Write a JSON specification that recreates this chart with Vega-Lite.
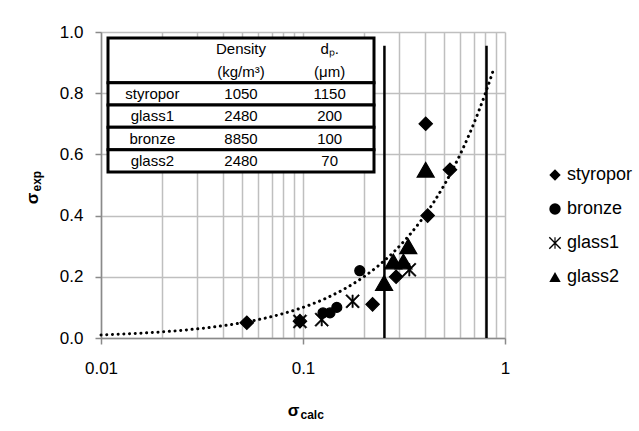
{
  "$schema": "https://vega.github.io/schema/vega-lite/v6.json",
  "width": 404,
  "height": 306,
  "autosize": {"type": "none"},
  "padding": {"left": 101, "top": 32, "right": 134, "bottom": 93},
  "background": "white",
  "config": {
    "view": {"stroke": null},
    "font": "Liberation Sans",
    "legend": {
      "orient": "none",
      "legendX": 445,
      "legendY": 134,
      "padding": 0,
      "labelFontSize": 18,
      "labelFont": "Liberation Sans",
      "labelColor": "black",
      "symbolSize": 130,
      "rowPadding": 16,
      "labelOffset": 3,
      "symbolFillColor": "black",
      "symbolStrokeColor": "black",
      "symbolStrokeWidth": 1
    }
  },
  "datasets": {
    "points": [
      {"material": "styropor", "calc": 0.0527, "exp": 0.05},
      {"material": "styropor", "calc": 0.0966, "exp": 0.055},
      {"material": "styropor", "calc": 0.221, "exp": 0.11},
      {"material": "styropor", "calc": 0.289, "exp": 0.2},
      {"material": "styropor", "calc": 0.414, "exp": 0.4},
      {"material": "styropor", "calc": 0.405, "exp": 0.7},
      {"material": "styropor", "calc": 0.534, "exp": 0.55},
      {"material": "bronze", "calc": 0.191, "exp": 0.22},
      {"material": "bronze", "calc": 0.1256, "exp": 0.082},
      {"material": "bronze", "calc": 0.136, "exp": 0.082},
      {"material": "bronze", "calc": 0.147, "exp": 0.1},
      {"material": "glass1", "calc": 0.0966, "exp": 0.054},
      {"material": "glass1", "calc": 0.1238, "exp": 0.06},
      {"material": "glass1", "calc": 0.176, "exp": 0.12},
      {"material": "glass1", "calc": 0.336, "exp": 0.223},
      {"material": "glass2", "calc": 0.252, "exp": 0.18},
      {"material": "glass2", "calc": 0.28, "exp": 0.25},
      {"material": "glass2", "calc": 0.314, "exp": 0.25},
      {"material": "glass2", "calc": 0.332, "exp": 0.3},
      {"material": "glass2", "calc": 0.405, "exp": 0.55}
    ],
    "fit": [
      {"calc": 0.01, "exp": 0.01},
      {"calc": 0.012, "exp": 0.012},
      {"calc": 0.015, "exp": 0.015},
      {"calc": 0.018, "exp": 0.018},
      {"calc": 0.022, "exp": 0.022},
      {"calc": 0.027, "exp": 0.027},
      {"calc": 0.033, "exp": 0.033},
      {"calc": 0.04, "exp": 0.04},
      {"calc": 0.05, "exp": 0.05},
      {"calc": 0.06, "exp": 0.06},
      {"calc": 0.075, "exp": 0.075},
      {"calc": 0.09, "exp": 0.09},
      {"calc": 0.11, "exp": 0.11},
      {"calc": 0.13, "exp": 0.13},
      {"calc": 0.16, "exp": 0.16},
      {"calc": 0.2, "exp": 0.2},
      {"calc": 0.24, "exp": 0.24},
      {"calc": 0.28, "exp": 0.28},
      {"calc": 0.33, "exp": 0.33},
      {"calc": 0.38, "exp": 0.38},
      {"calc": 0.44, "exp": 0.44},
      {"calc": 0.5, "exp": 0.5},
      {"calc": 0.56, "exp": 0.56},
      {"calc": 0.62, "exp": 0.62},
      {"calc": 0.68, "exp": 0.68},
      {"calc": 0.74, "exp": 0.74},
      {"calc": 0.8, "exp": 0.8},
      {"calc": 0.85, "exp": 0.85},
      {"calc": 0.88, "exp": 0.88}
    ],
    "limits": [
      {"calc": 0.253, "exp0": 0, "exp1": 0.955},
      {"calc": 0.81, "exp0": 0, "exp1": 0.955}
    ],
    "table": [
      {"row": "h1", "material": "", "density": "Density", "dp": "dₚ."},
      {"row": "h2", "material": "", "density": "(kg/m³)", "dp": "(μm)"},
      {"row": "styropor", "material": "styropor", "density": "1050", "dp": "1150"},
      {"row": "glass1", "material": "glass1", "density": "2480", "dp": "200"},
      {"row": "bronze", "material": "bronze", "density": "8850", "dp": "100"},
      {"row": "glass2", "material": "glass2", "density": "2480", "dp": "70"}
    ],
    "boxes": [
      {"top": "h1", "bottom": "h2"},
      {"top": "styropor", "bottom": "styropor"},
      {"top": "glass1", "bottom": "glass1"},
      {"top": "bronze", "bottom": "bronze"},
      {"top": "glass2", "bottom": "glass2"}
    ]
  },
  "layer": [
    {
      "encoding": {
        "x": {
          "field": "calc",
          "type": "quantitative",
          "scale": {"type": "log", "domain": [0.01, 1]},
          "axis": {
            "title": "σ",
            "values": [0.01, 0.02, 0.03, 0.04, 0.05, 0.06, 0.07, 0.08, 0.09, 0.1, 0.2, 0.3, 0.4, 0.5, 0.6, 0.7, 0.8, 0.9, 1],
            "labelExpr": "datum.value == 0.01 ? '0.01' : (datum.value == 0.1 ? '0.1' : (datum.value == 1 ? '1' : ''))",
            "grid": true,
            "gridColor": "#bfbfbf",
            "gridWidth": 1.5,
            "domainColor": "#8a8a8a",
            "domainWidth": 1.5,
            "tickColor": "#8a8a8a",
            "tickWidth": 1.5,
            "tickSize": 6,
            "tickOpacity": {"condition": {"test": "datum.value == 0.01 || datum.value == 0.1 || datum.value == 1", "value": 1}, "value": 0},
            "labelFontSize": 17,
            "labelFont": "Liberation Sans",
            "labelColor": "black",
            "labelPadding": 16,
            "labelFlush": false,
            "labelOverlap": false,
            "titleFontSize": 17,
            "titleFont": "Liberation Sans",
            "titleFontWeight": "bold",
            "titleColor": "black",
            "titleX": 192,
            "titleY": 77,
            "titleAlign": "center",
            "titleBaseline": "alphabetic"
          }
        },
        "y": {
          "field": "exp",
          "type": "quantitative",
          "scale": {"domain": [0, 1]},
          "axis": {
            "title": "σ",
            "values": [0, 0.2, 0.4, 0.6, 0.8, 1],
            "format": ".1f",
            "grid": true,
            "gridColor": "#bfbfbf",
            "gridWidth": 1.5,
            "domainColor": "#8a8a8a",
            "domainWidth": 1.5,
            "tickColor": "#8a8a8a",
            "tickWidth": 1.5,
            "tickSize": 6,
            "labelFontSize": 17,
            "labelFont": "Liberation Sans",
            "labelColor": "black",
            "labelPadding": 12,
            "labelFlush": false,
            "titleFontSize": 17,
            "titleFont": "Liberation Sans",
            "titleFontWeight": "bold",
            "titleColor": "black",
            "titleAngle": 270,
            "titleX": -64,
            "titleY": 166,
            "titleAlign": "center",
            "titleBaseline": "alphabetic"
          }
        }
      },
      "layer": [
        {
          "data": {"name": "fit"},
          "mark": {"type": "line", "stroke": "black", "strokeWidth": 3, "strokeDash": [0.1, 5.6], "strokeCap": "round", "interpolate": "monotone"},
          "encoding": {}
        },
        {
          "data": {"name": "limits"},
          "mark": {"type": "rule", "color": "black", "strokeWidth": 2.5},
          "encoding": {
            "y": {"field": "exp0", "type": "quantitative"},
            "y2": {"field": "exp1"}
          }
        },
        {
          "data": {"name": "points"},
          "transform": [{"filter": "datum.material == 'styropor'"}],
          "mark": {"type": "point", "filled": true, "color": "black", "stroke": "black", "strokeWidth": 1.2, "opacity": 1, "size": 180},
          "encoding": {
            "shape": {
              "field": "material",
              "type": "nominal",
              "scale": {
                "domain": ["styropor", "bronze", "glass1", "glass2"],
                "range": ["diamond", "circle", "M-0.1,-1L0.1,-1L0.1,1L-0.1,1ZM-0.915,-1.085L1.085,0.915L0.915,1.085L-1.085,-0.915ZM-1.085,0.915L0.915,-1.085L1.085,-0.915L-0.915,1.085Z", "triangle-up"]
              },
              "legend": {"title": null}
            }
          }
        },
        {
          "data": {"name": "points"},
          "transform": [{"filter": "datum.material == 'bronze'"}],
          "mark": {"type": "point", "filled": true, "color": "black", "stroke": "black", "strokeWidth": 1.2, "opacity": 1, "size": 100},
          "encoding": {
            "shape": {
              "field": "material",
              "type": "nominal",
              "scale": {
                "domain": ["styropor", "bronze", "glass1", "glass2"],
                "range": ["diamond", "circle", "M-0.1,-1L0.1,-1L0.1,1L-0.1,1ZM-0.915,-1.085L1.085,0.915L0.915,1.085L-1.085,-0.915ZM-1.085,0.915L0.915,-1.085L1.085,-0.915L-0.915,1.085Z", "triangle-up"]
              }
            }
          }
        },
        {
          "data": {"name": "points"},
          "transform": [{"filter": "datum.material == 'glass1'"}],
          "mark": {"type": "point", "filled": true, "color": "black", "stroke": "black", "strokeWidth": 0.6, "opacity": 1, "size": 160},
          "encoding": {
            "shape": {
              "field": "material",
              "type": "nominal",
              "scale": {
                "domain": ["styropor", "bronze", "glass1", "glass2"],
                "range": ["diamond", "circle", "M-0.1,-1L0.1,-1L0.1,1L-0.1,1ZM-0.915,-1.085L1.085,0.915L0.915,1.085L-1.085,-0.915ZM-1.085,0.915L0.915,-1.085L1.085,-0.915L-0.915,1.085Z", "triangle-up"]
              }
            }
          }
        },
        {
          "data": {"name": "points"},
          "transform": [{"filter": "datum.material == 'glass2'"}],
          "mark": {"type": "point", "filled": true, "color": "black", "stroke": "black", "strokeWidth": 1.2, "opacity": 1, "size": 290},
          "encoding": {
            "shape": {
              "field": "material",
              "type": "nominal",
              "scale": {
                "domain": ["styropor", "bronze", "glass1", "glass2"],
                "range": ["diamond", "circle", "M-0.1,-1L0.1,-1L0.1,1L-0.1,1ZM-0.915,-1.085L1.085,0.915L0.915,1.085L-1.085,-0.915ZM-1.085,0.915L0.915,-1.085L1.085,-0.915L-0.915,1.085Z", "triangle-up"]
              }
            }
          }
        }
      ]
    },
    {
      "layer": [
        {
          "data": {"name": "boxes"},
          "mark": {"type": "rect", "fill": "white", "stroke": "black", "strokeWidth": 3},
          "encoding": {
            "x": {
              "datum": "material",
              "type": "nominal",
              "bandPosition": 0,
              "scale": {"type": "band", "domain": ["material", "density", "dp"], "range": [7, 273], "paddingInner": 0, "paddingOuter": 0},
              "axis": {"orient": "bottom", "title": "calc", "labels": false, "ticks": false, "domain": false, "grid": false, "titleFontSize": 12, "titleFont": "Liberation Sans", "titleFontWeight": "bold", "titleColor": "black", "titleX": 199, "titleY": 80, "titleAlign": "left", "titleBaseline": "alphabetic"}
            },
            "x2": {"datum": "dp", "bandPosition": 1},
            "y": {
              "field": "top",
              "type": "nominal",
              "bandPosition": 0,
              "scale": {"type": "band", "domain": ["h1", "h2", "styropor", "glass1", "bronze", "glass2"], "range": [6, 140], "paddingInner": 0, "paddingOuter": 0},
              "axis": {"orient": "left", "title": "exp", "labels": false, "ticks": false, "domain": false, "grid": false, "titleFontSize": 12, "titleFont": "Liberation Sans", "titleFontWeight": "bold", "titleColor": "black", "titleAngle": 270, "titleX": -61, "titleY": 159, "titleAlign": "left", "titleBaseline": "alphabetic"}
            },
            "y2": {"field": "bottom", "bandPosition": 1}
          }
        },
        {
          "data": {"name": "table"},
          "transform": [{"fold": ["material", "density", "dp"], "as": ["col", "txt"]}],
          "mark": {"type": "text", "fontSize": 15, "font": "Liberation Sans", "color": "black", "align": "center", "baseline": "middle"},
          "encoding": {
            "x": {"field": "col", "type": "nominal"},
            "y": {"field": "row", "type": "nominal"},
            "text": {"field": "txt"}
          }
        }
      ]
    }
  ],
  "resolve": {
    "scale": {"x": "independent", "y": "independent"},
    "axis": {"x": "independent", "y": "independent"}
  }
}
